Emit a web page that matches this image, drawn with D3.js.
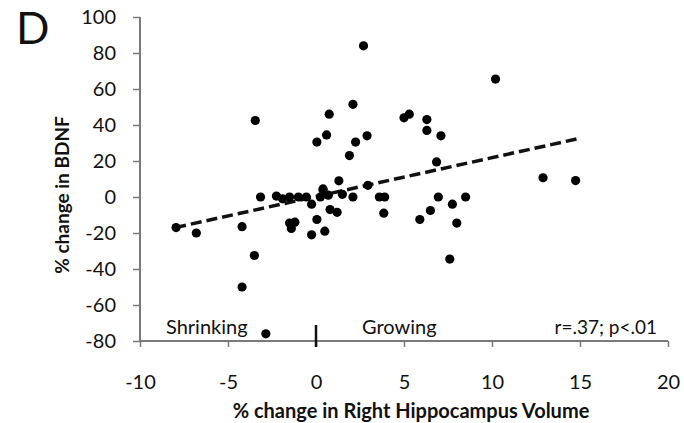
<!DOCTYPE html>
<html><head><meta charset="utf-8">
<script src="https://cdn.jsdelivr.net/npm/d3@7"></script>
<style>
html,body{margin:0;padding:0;background:#fff;overflow:hidden}
svg{display:block}
text{font-family:Lato,"Open Sans",sans-serif;fill:#111}
</style></head>
<body>
<svg id="c" width="684" height="423"></svg>
<script>
// Data: % change in right hippocampus volume (x) vs % change in BDNF (y)
const volumeChange = [2.7,2.1,0.75,0.6,0.05,2.25,2.9,1.9,5.0,5.3,6.3,6.3,7.1,6.85,1.3,0.4,-3.45,10.2,12.9,14.75,
  8.5,3.6,3.9,3.85,6.95,7.75,6.5,5.9,8.0,7.6,2.95,2.1,1.5,1.2,0.8,0.05,-0.25,0.5,-1.5,-1.2,-1.4,
  -3.15,-2.25,-1.9,-1.5,-1.0,-0.55,-0.25,0.4,0.25,0.7,-7.95,-6.8,-4.2,-3.5,-4.2,-2.85];
const bdnfChange = [84,51.5,46,34.5,30.5,30.5,34,23,44,46,43,37,34,19.5,9,4.5,42.5,65.5,10.7,9.1,
  0,0,0,-9,0,-4,-7.5,-12.5,-14.5,-34.5,6.5,0,1.5,-8.5,-7,-12.5,-21,-19,-14.5,-14,-17.5,
  0,0.5,-1,0,0,0,-4,3.9,0,1,-17,-20,-16.5,-32.5,-50,-76];
const fitX = [-8, 14.8];
const fitY = [-17, 32.2];
const xTicks = [-10,-5,0,5,10,15,20];
const yTicks = [-80,-60,-40,-20,0,20,40,60,80,100];

const svg = d3.select("#c");
const x = d3.scaleLinear().domain([-10,20]).range([140,668]);
const y = d3.scaleLinear().domain([-80,100]).range([341,17]);
const axisColor = "#7a7a7a";
const fmt = (d) => String(d);

// Y axis
const gy = svg.append("g").attr("transform","translate(140,0)")
  .call(d3.axisLeft(y).tickValues(yTicks).tickSize(7).tickPadding(17).tickFormat(fmt));
gy.select(".domain").attr("stroke",axisColor).attr("stroke-width",2).attr("d","M0,"+y(100)+"V"+y(-80));
gy.selectAll(".tick line").attr("stroke",axisColor).attr("stroke-width",1.5);
gy.selectAll(".tick text").style("font-size","20px").attr("fill","#222");

// X axis
const gx = svg.append("g").attr("transform","translate(0,341)")
  .call(d3.axisBottom(x).tickValues(xTicks).tickSize(6).tickPadding(28).tickFormat(fmt));
gx.select(".domain").attr("stroke",axisColor).attr("stroke-width",2).attr("d","M"+x(-10)+",0H"+x(20));
gx.selectAll(".tick line").attr("stroke",axisColor).attr("stroke-width",1.5);
gx.selectAll(".tick text").style("font-size","20px").attr("fill","#222");

// divider mark at 0
svg.append("line").attr("x1",x(0)).attr("x2",x(0)).attr("y1",325).attr("y2",347)
  .attr("stroke","#111").attr("stroke-width",2.5);

// fit line
svg.append("line").attr("x1",x(fitX[0])).attr("y1",y(fitY[0])).attr("x2",x(fitX[1])).attr("y2",y(fitY[1]))
  .attr("stroke","#111").attr("stroke-width",3.5).attr("stroke-dasharray","11,5");

// points
svg.append("g").selectAll("circle").data(volumeChange).join("circle")
  .attr("cx",(d)=>x(d)).attr("cy",(d,i)=>y(bdnfChange[i])).attr("r",4.6).attr("fill","#000");

// annotations
svg.append("text").attr("x",166).attr("y",334).style("font-size","20px").text("Shrinking");
svg.append("text").attr("x",362).attr("y",334).style("font-size","20px").text("Growing");
svg.append("text").attr("x",657).attr("y",334).attr("text-anchor","end").style("font-size","19px").text("r=.37; p<.01");

// panel letter
svg.append("text").attr("x",16).attr("y",44).style("font-size","44px").text("D");

// axis titles
svg.append("text").attr("x",411).attr("y",418).attr("text-anchor","middle")
  .style("font-size","20px").style("font-weight","bold").text("% change in Right Hippocampus Volume");
svg.append("text").attr("transform","translate(69,195) rotate(-90)").attr("text-anchor","middle")
  .style("font-size","19px").style("font-weight","bold").text("% change in BDNF");
</script>
</body></html>
